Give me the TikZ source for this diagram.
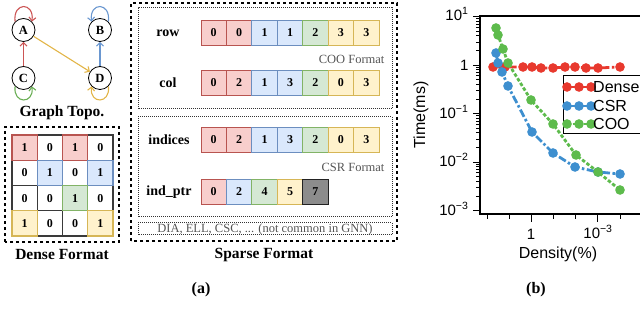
\documentclass[tikz,border=0pt]{standalone}
\usepackage{fontspec}
\setmainfont{Liberation Serif}
\newfontfamily\plotfont{Liberation Sans}
\usetikzlibrary{arrows.meta}
\definecolor{fillr}{HTML}{F8CECC}\definecolor{drawr}{HTML}{B85450}
\definecolor{fillb}{HTML}{DAE8FC}\definecolor{drawb}{HTML}{6C8EBF}
\definecolor{fillg}{HTML}{D5E8D4}\definecolor{drawg}{HTML}{82B366}
\definecolor{filly}{HTML}{FFF2CC}\definecolor{drawy}{HTML}{D6B656}
\definecolor{fillk}{HTML}{8C8C8C}\definecolor{drawk}{HTML}{222222}
\definecolor{fillw}{HTML}{FFFFFF}\definecolor{draww}{HTML}{3A3A3A}
\definecolor{loopr}{HTML}{CC5555}\definecolor{loopb}{HTML}{6A97D0}
\definecolor{loopg}{HTML}{6AAE55}\definecolor{loopy}{HTML}{E2B548}
\definecolor{pred}{HTML}{E8392E}\definecolor{pblue}{HTML}{3E8FCF}
\definecolor{pgreen}{HTML}{5DBB4C}
\definecolor{txtgray}{HTML}{555555}
\tikzset{
  vnode/.style={circle,draw,line width=0.8pt,minimum size=23pt,inner sep=0,font=\bfseries\fontsize{12.5}{12.5}\selectfont},
  arr/.style={line width=1.1pt,-{Straight Barb[length=3.5pt,width=7pt]}},
  cellbox/.style={minimum width=25.4pt,minimum height=25pt,inner sep=0,line width=0.9pt,font=\bfseries\fontsize{12}{12}\selectfont},
  mcell/.style={minimum width=25.25pt,minimum height=25.25pt,inner sep=0,line width=1.3pt,font=\bfseries\fontsize{12}{12}\selectfont},
  lbl/.style={font=\bfseries\fontsize{14}{14}\selectfont},
  title/.style={font=\bfseries\fontsize{15.5}{15.5}\selectfont},
  outerbox/.style={draw,dashed,line width=1.2pt},
  innerbox/.style={draw,densely dotted,line width=1pt,draw=black!80},
  fmt/.style={font=\fontsize{12.5}{12.5}\selectfont,text=txtgray},
  tick/.style={font=\plotfont\fontsize{15}{15}\selectfont},
  big/.style={font=\plotfont\fontsize{16}{16}\selectfont},
  sdense/.style={pred,line width=2.8pt,dash pattern=on 8pt off 2.5pt on 2.5pt off 2.5pt,mark=*,mark size=3.3pt,mark options={solid,pred}},
  scsr/.style={pblue,line width=2.8pt,dash pattern=on 8pt off 2.5pt on 2.5pt off 2.5pt,mark=*,mark size=3.3pt,mark options={solid,pblue}},
  scoo/.style={pgreen,line width=2.8pt,dash pattern=on 3.5pt off 2pt,mark=*,mark size=3.3pt,mark options={solid,pgreen}}
}
\begin{document}
\begin{tikzpicture}[x=1pt,y=1pt]
\useasboundingbox (0,0) rectangle (640,334);
\clip (0,0) rectangle (640,334);
% ---------- Graph topology
\node[vnode] (A) at (23.5,304) {A};
\node[vnode] (B) at (100,304) {B};
\node[vnode] (C) at (23.5,256) {C};
\node[vnode] (D) at (100,256) {D};
\draw[loopr,arr] (C) -- (A);
\draw[loopy,arr] (A) -- (D);
\draw[loopb,arr] (D) -- (B);
\draw[loopr,arr] (A.135) .. controls +(97:20) and +(83:20) .. (A.45);
\draw[loopb,arr] (B.45) .. controls +(83:20) and +(97:20) .. (B.135);
\draw[loopg,arr] (C.-135) .. controls +(-97:18) and +(-83:18) .. (C.-45);
\draw[loopy,arr] (D.-45) .. controls +(-83:18) and +(-97:18) .. (D.-135);
\node[title] (gt) at (62,221) {Graph Topo.};
% ---------- Dense format
\draw[outerbox] (5,92) rectangle (119,207);
\foreach \i/\j/\v/\c in {0/1/0/w,0/3/0/w,1/0/0/w,1/2/0/w,2/0/0/w,2/1/0/w,2/3/0/w,3/1/0/w,3/2/0/w,
  0/0/1/r,0/2/1/r,1/1/1/b,1/3/1/b,2/2/1/g,3/0/1/y,3/3/1/y}
  \node[mcell,fill=fill\c,draw=draw\c] (m\i\j) at ({12+25.25*(\j+0.5)},{199-25.25*(\i+0.5)}) {\v};
\node[title] (df) at (62,79) {Dense Format};
% ---------- Sparse format
\draw[outerbox] (131,93) rectangle (397,331);
\draw[innerbox] (138,225) rectangle (392,326);
\draw[innerbox] (138,117) rectangle (392,217);
\draw[innerbox] (138,99) rectangle (392,111);
\node[fmt] (dia) at (265,105) {DIA, ELL, CSC, ... (not common in GNN)};
\node[lbl] (lrow) at (168,301) {row};
\node[lbl] (lcol) at (168,251) {col};
\node[lbl] (lind) at (169,194) {indices};
\node[lbl] (lptr) at (169,142) {ind\_ptr};
\foreach \v/\c [count=\k from 0] in {0/r,0/r,1/b,1/b,2/g,3/y,3/y}
  \node[cellbox,fill=fill\c,draw=draw\c] (row\k) at ({201+25.43*(\k+0.5)},301) {\v};
\foreach \v/\c [count=\k from 0] in {0/r,2/r,1/b,3/b,2/g,0/y,3/y}
  \node[cellbox,fill=fill\c,draw=draw\c] (col\k) at ({201+25.43*(\k+0.5)},251) {\v};
\foreach \v/\c [count=\k from 0] in {0/r,2/r,1/b,3/b,2/g,0/y,3/y}
  \node[cellbox,fill=fill\c,draw=draw\c] (ind\k) at ({201+25.43*(\k+0.5)},194) {\v};
\foreach \v/\c [count=\k from 0] in {0/r,2/b,4/g,5/y,7/k}
  \node[cellbox,fill=fill\c,draw=draw\c] (ptr\k) at ({201+25.43*(\k+0.5)},142) {\v};
\node[fmt,anchor=east] (coof) at (388,275) {COO Format};
\node[fmt,anchor=east] (csrf) at (388,167) {CSR Format};
\node[title] (sf) at (264,79) {Sparse Format};
\node[title,font=\bfseries\fontsize{16}{16}\selectfont] (capa) at (201,44) {(a)};
% ---------- Plot
\draw[line width=1.2pt] (480,120) rectangle (650,318);
\foreach \k in {-3,-2,-1,0}
  \foreach \m in {2,...,9}
    \draw[line width=0.6pt] (480,{269+48.5*(\k+log10(\m))}) -- (476,{269+48.5*(\k+log10(\m))});
\foreach \k in {-3,...,1}
  \draw[line width=0.8pt] (480,{269+48.5*\k}) -- (473,{269+48.5*\k});
\node[tick,anchor=east] (y1) at (472,320) {10\textsuperscript{1}};
\node[tick,anchor=east] (y0) at (472,269) {1};
\node[tick,anchor=east] (ym1) at (472,222) {10\textsuperscript{−1}};
\node[tick,anchor=east] (ym2) at (472,174) {10\textsuperscript{−2}};
\node[tick,anchor=east] (ym3) at (472,125) {10\textsuperscript{−3}};
\foreach \x in {487,509,553,575,620}
  \draw[line width=0.8pt] (\x,120) -- (\x,115);
\foreach \x in {531,597}
  \draw[line width=0.8pt] (\x,120) -- (\x,112);
\node[tick] (x0) at (531,100) {1};
\node[tick] (x3) at (598,102) {10\textsuperscript{−3}};
\node[big] (xl) at (558,80) {Density(\%)};
\node[big,rotate=90] (yl) at (421,219) {Time(ms)};
\draw[sdense] plot coordinates {(493,267) (505,267) (523,267) (532,267) (541,266) (553,266) (565,267) (575,267) (586,266) (598,266) (620,267)};
\draw[scsr] plot coordinates {(496,281) (498,271) (502,262) (508,248) (532,202) (553,181) (575,167) (598,162) (620,160)};
\draw[scoo] plot coordinates {(496,306) (498,299) (503,285) (508,271) (531,234) (553,210) (576,179) (598,162) (620,144)};
\draw[line width=0.9pt,fill=white] (563,201) rectangle (660,259);
\draw[sdense] plot coordinates {(567,247) (579,247) (591,247)};
\draw[scsr] plot coordinates {(567,228) (579,228) (591,228)};
\draw[scoo] plot coordinates {(567,210) (579,210) (591,210)};
\node[big,anchor=west,inner sep=1pt] (ld) at (592,247) {Dense};
\node[big,anchor=west,inner sep=1pt] (lc) at (592,228) {CSR};
\node[big,anchor=west,inner sep=1pt] (lo) at (592,210) {COO};
\node[title,font=\bfseries\fontsize{16}{16}\selectfont] (capb) at (536,44) {(b)};
\end{tikzpicture}
\end{document}
